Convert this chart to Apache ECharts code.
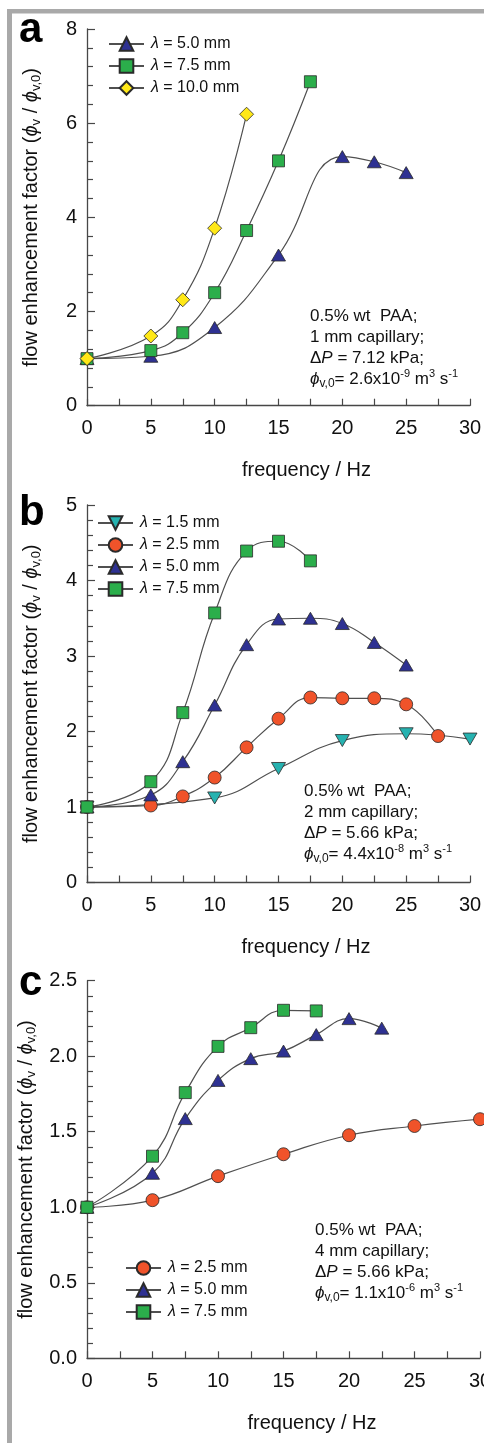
<!DOCTYPE html>
<html>
<head>
<meta charset="utf-8">
<script src="https://cdn.jsdelivr.net/npm/echarts@6/dist/echarts.min.js"></script>
<style>
html,body{margin:0;padding:0;background:#fff;}
#c{width:484px;height:1443px;}
</style>
</head>
<body>
<div id="c"></div>
<script>
// ---------- DATA ----------
// x tick labels (frequency / Hz)
const freqTicks = [0, 5, 10, 15, 20, 25, 30];
// Panel a: 0.5% wt PAA, 1 mm capillary
const aFreq50 = [0, 5, 10, 15, 20, 22.5, 25];
const aFlow50 = [1.0, 1.05, 1.66, 3.2, 5.29, 5.18, 4.95];
const aFreq75 = [0, 5, 7.5, 10, 12.5, 15, 17.5];
const aFlow75 = [1.0, 1.17, 1.55, 2.4, 3.72, 5.2, 6.88];
const aFreq100 = [0, 5, 7.5, 10, 12.5];
const aFlow100 = [1.0, 1.48, 2.25, 3.77, 6.19];
// Panel b: 0.5% wt PAA, 2 mm capillary
const bFreq15 = [0, 10, 15, 20, 25, 30];
const bFlow15 = [1.0, 1.12, 1.51, 1.88, 1.97, 1.9];
const bFreq25 = [0, 5, 7.5, 10, 12.5, 15, 17.5, 20, 22.5, 25, 27.5];
const bFlow25 = [1.0, 1.02, 1.14, 1.39, 1.79, 2.17, 2.45, 2.44, 2.44, 2.36, 1.94];
const bFreq50 = [0, 5, 7.5, 10, 12.5, 15, 17.5, 20, 22.5, 25];
const bFlow50 = [1.0, 1.16, 1.6, 2.35, 3.15, 3.49, 3.5, 3.43, 3.18, 2.88];
const bFreq75 = [0, 5, 7.5, 10, 12.5, 15, 17.5];
const bFlow75 = [1.0, 1.335, 2.25, 3.57, 4.39, 4.52, 4.26];
// Panel c: 0.5% wt PAA, 4 mm capillary
const cFreq25 = [0, 5, 10, 15, 20, 25, 30];
const cFlow25 = [1.0, 1.047, 1.206, 1.351, 1.477, 1.538, 1.583];
const cFreq50 = [0, 5, 7.5, 10, 12.5, 15, 17.5, 20, 22.5];
const cFlow50 = [1.0, 1.225, 1.587, 1.84, 1.984, 2.034, 2.143, 2.249, 2.186];
const cFreq75 = [0, 5, 7.5, 10, 12.5, 15, 17.5];
const cFlow75 = [1.0, 1.338, 1.759, 2.065, 2.189, 2.304, 2.30];
// y axis ranges
const yMax = [8, 5, 2.5];
const yStep = [2, 1, 0.5];
// annotation texts
const noteA = ['0.5% wt  PAA;', '1 mm capillary;', '{d|Δ}{i|P} = 7.12 kPa;', '{i|ϕ}{sub|v,0}= 2.6x10{sup|-9} m{sup|3} s{sup|-1}'];
const noteB = ['0.5% wt  PAA;', '2 mm capillary;', '{d|Δ}{i|P} = 5.66 kPa;', '{i|ϕ}{sub|v,0}= 4.4x10{sup|-8} m{sup|3} s{sup|-1}'];
const noteC = ['0.5% wt  PAA;', '4 mm capillary;', '{d|Δ}{i|P} = 5.66 kPa;', '{i|ϕ}{sub|v,0}= 1.1x10{sup|-6} m{sup|3} s{sup|-1}'];

// ---------- STYLE ----------
const FONT = '"Liberation Sans", Arial, Helvetica, sans-serif';
const AXIS_COLOR = '#474747';
const LINE_COLOR = '#505050';
const TXT = '#111111';
const C_TEAL = '#26b2b0', C_ORANGE = '#f0532a', C_BLUE = '#2e3192', C_GREEN = '#2bae4b', C_YELLOW = '#ffe817';
const DOWN_TRI = 'path://M0,0 L10,0 L5,8.66 Z';

const grids = [
  {left: 87, top: 29, width: 383, height: 376.7, outerBoundsMode: 'none', containLabel: false},
  {left: 87, top: 505, width: 383, height: 377.5, outerBoundsMode: 'none', containLabel: false},
  {left: 87, top: 980.7, width: 393, height: 377.6, outerBoundsMode: 'none', containLabel: false}
];
const xNamePad = [56, 55, 57];

function pairs(xs, ys) { return xs.map((x, i) => [x, ys[i]]); }
function mk(name, gi, xs, ys, symbol, size, color) {
  return {
    type: 'line', name: name, xAxisIndex: gi, yAxisIndex: gi,
    data: pairs(xs, ys), smooth: 0.45, symbol: symbol, symbolSize: size,
    showSymbol: true, clip: false, silent: true,
    lineStyle: {color: LINE_COLOR, width: 1.2},
    itemStyle: {color: color, borderColor: '#2a2a2a', borderWidth: 0.8, opacity: 1},
    emphasis: {disabled: true}
  };
}

const xAxes = grids.map((g, i) => ({
  type: 'value', gridIndex: i, min: 0, max: 30, interval: 5,
  name: 'frequency / Hz', nameLocation: 'middle', nameGap: 55,
  nameTextStyle: {fontSize: 20, fontFamily: FONT, color: TXT, padding: [0, 0, 0, xNamePad[i]]},
  axisLine: {show: true, onZero: false, lineStyle: {color: AXIS_COLOR, width: 1.3}},
  axisTick: {show: true, inside: true, length: 7, lineStyle: {color: AXIS_COLOR, width: 1.2}},
  minorTick: {show: true, splitNumber: 2, length: 7, lineStyle: {color: AXIS_COLOR, width: 1.2}},
  axisLabel: {fontSize: 20, fontFamily: FONT, color: TXT, margin: 13, hideOverlap: false,
    formatter: v => freqTicks.includes(v) ? String(v) : ''},
  splitLine: {show: false}
}));

const yName = 'flow enhancement factor ({i|ϕ}{sub|v} / {i|ϕ}{sub|v,0})';
const yAxes = grids.map((g, i) => ({
  type: 'value', gridIndex: i, min: 0, max: yMax[i], interval: yStep[i],
  name: yName, nameLocation: 'middle', nameGap: 44, nameRotate: 90,
  nameTextStyle: {fontSize: 20, fontFamily: FONT, color: TXT, lineHeight: 24,
    rich: {
      i: {fontStyle: 'italic', fontSize: 20, fontFamily: FONT, color: TXT},
      sub: {fontSize: 13, fontFamily: FONT, color: TXT, verticalAlign: 'bottom', lineHeight: 13}
    }},
  axisLine: {show: true, onZero: false, lineStyle: {color: AXIS_COLOR, width: 1.3}},
  axisTick: {show: true, inside: true, length: 8, lineStyle: {color: AXIS_COLOR, width: 1.2}},
  minorTick: {show: true, splitNumber: 5, length: 6, lineStyle: {color: AXIS_COLOR, width: 1.2}},
  axisLabel: {fontSize: 20, fontFamily: FONT, color: TXT, margin: 10,
    formatter: v => i === 2 ? v.toFixed(1) : String(v)},
  splitLine: {show: false}
}));

const series = [
  mk('a5.0', 0, aFreq50, aFlow50, 'triangle', [14, 12], C_BLUE),
  mk('a7.5', 0, aFreq75, aFlow75, 'rect', 12, C_GREEN),
  mk('a10.0', 0, aFreq100, aFlow100, 'diamond', 14, C_YELLOW),
  mk('b1.5', 1, bFreq15, bFlow15, DOWN_TRI, [14, 12], C_TEAL),
  mk('b2.5', 1, bFreq25, bFlow25, 'circle', 13, C_ORANGE),
  mk('b5.0', 1, bFreq50, bFlow50, 'triangle', [14, 12], C_BLUE),
  mk('b7.5', 1, bFreq75, bFlow75, 'rect', 12, C_GREEN),
  mk('c2.5', 2, cFreq25, cFlow25, 'circle', 13, C_ORANGE),
  mk('c5.0', 2, cFreq50, cFlow50, 'triangle', [14, 12], C_BLUE),
  mk('c7.5', 2, cFreq75, cFlow75, 'rect', 12, C_GREEN)
];

function legend(names, left, top) {
  return {
    data: names, orient: 'vertical', left: left, top: top, padding: 0,
    itemWidth: 35, itemHeight: 17, itemGap: 6, selectedMode: false,
    formatter: n => '{l|λ} = ' + n.slice(1) + ' mm',
    textStyle: {fontSize: 16, fontFamily: FONT, color: TXT, padding: [0, 0, 0, 2],
      rich: {l: {fontStyle: 'italic', fontSize: 16, fontFamily: FONT, color: TXT}}}
  };
}

function note(lines, x, y) {
  return {
    type: 'text', x: x, y: y, silent: true,
    style: {
      text: lines.join('\n'), fontSize: 17, fontFamily: FONT, fill: TXT,
      lineHeight: 21, align: 'left', verticalAlign: 'top',
      rich: {
        i: {fontStyle: 'italic', fontSize: 17, fontFamily: FONT, fill: TXT, lineHeight: 21},
        d: {fontSize: 17, fontFamily: FONT, fill: TXT, lineHeight: 21},
        sub: {fontSize: 12, fontFamily: FONT, fill: TXT, verticalAlign: 'bottom', lineHeight: 12},
        sup: {fontSize: 11, fontFamily: FONT, fill: TXT, verticalAlign: 'top', lineHeight: 11}
      }
    }
  };
}
function panelLetter(t, x, y) {
  return {type: 'text', x: x, y: y, silent: true,
    style: {text: t, fontSize: 42, fontWeight: 'bold', fontFamily: FONT, fill: '#000',
      align: 'left', verticalAlign: 'middle'}};
}

const option = {
  animation: false,
  backgroundColor: '#ffffff',
  grid: grids,
  xAxis: xAxes,
  yAxis: yAxes,
  legend: [
    legend(['a5.0', 'a7.5', 'a10.0'], 108, 36),
    legend(['b1.5', 'b2.5', 'b5.0', 'b7.5'], 97, 515),
    legend(['c2.5', 'c5.0', 'c7.5'], 125, 1260)
  ],
  series: series,
  graphic: [
    {type: 'rect', silent: true, shape: {x: 7, y: 9, width: 477, height: 4.5}, style: {fill: '#a9a9a9'}},
    {type: 'rect', silent: true, shape: {x: 7, y: 9, width: 5, height: 1434}, style: {fill: '#a9a9a9'}},
    panelLetter('a', 19, 30),
    panelLetter('b', 19, 513),
    panelLetter('c', 19, 983),
    note(noteA, 310, 305.5),
    note(noteB, 304, 780.5),
    note(noteC, 315, 1219.5)
  ]
};

const chart = echarts.init(document.getElementById('c'), null, {renderer: 'canvas'});
chart.setOption(option);
</script>
</body>
</html>
